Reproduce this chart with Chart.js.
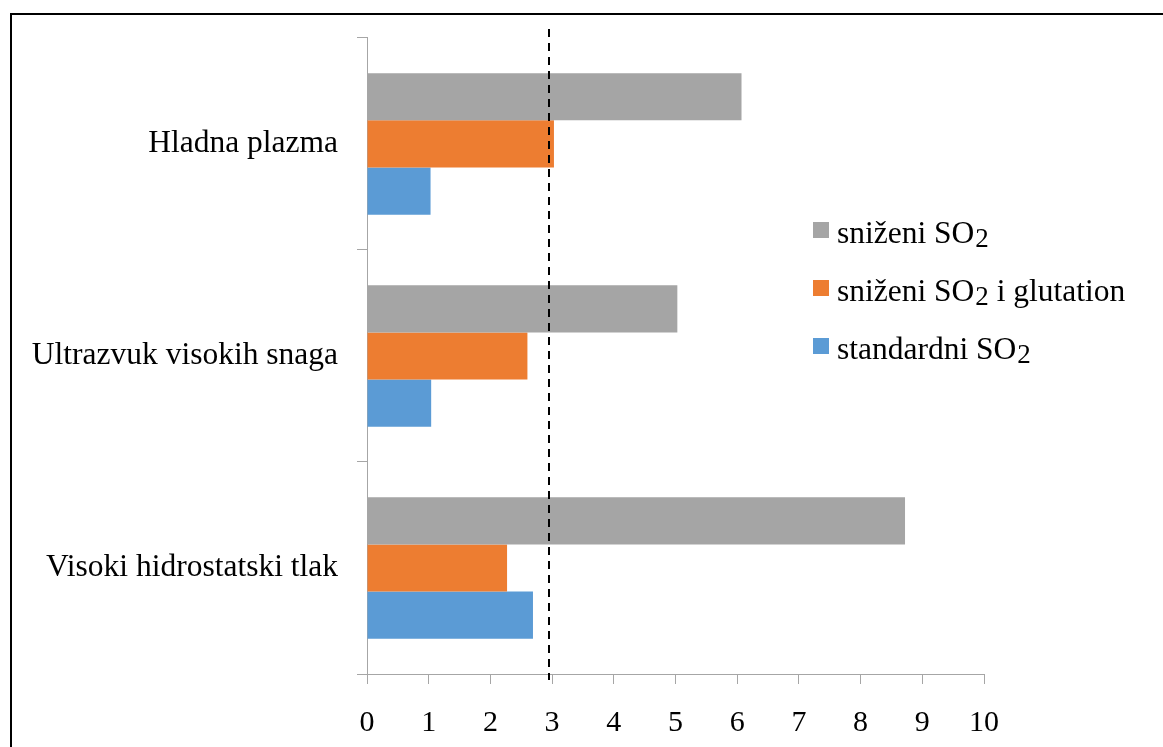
<!DOCTYPE html>
<html>
<head>
<meta charset="utf-8">
<script src="https://cdn.jsdelivr.net/npm/chart.js@4/dist/chart.umd.min.js"></script>
<style>
  html, body { margin: 0; padding: 0; background: #ffffff; overflow: hidden; }
  #wrap { position: relative; width: 1163px; height: 747px; }
  #frame { position: absolute; left: 10px; top: 13px; width: 1300px; height: 900px;
           border-left: 2px solid #000; border-top: 2px solid #000; box-sizing: border-box; }
  canvas { position: absolute; left: 0; top: 0; }
</style>
</head>
<body>
<div id="wrap">
  <div id="frame"></div>
  <canvas id="c" width="1163" height="747"></canvas>
</div>
<script>
// ---- data ----
const categories = ['Hladna plazma', 'Ultrazvuk visokih snaga', 'Visoki hidrostatski tlak'];
const seriesNames = ['sniženi SO\u2082', 'sniženi SO\u2082 i glutation', 'standardni SO\u2082'];
const snizeniSO2 = [6.07, 5.03, 8.72];
const snizeniSO2Glutation = [3.03, 2.60, 2.27];
const standardniSO2 = [1.03, 1.04, 2.69];
const xTicks = [0, 1, 2, 3, 4, 5, 6, 7, 8, 9, 10];
const referenceLine = 2.95;

const colors = ['#A5A5A5', '#ED7D31', '#5B9BD5'];
const FONT = "'Liberation Serif', 'Times New Roman', 'DejaVu Serif', serif";
const AXIS_GRAY = '#A6A6A6';

const refLinePlugin = {
  id: 'refLine',
  afterDatasetsDraw(chart) {
    const x = Math.round(chart.scales.x.getPixelForValue(referenceLine));
    const ctx = chart.ctx;
    ctx.save();
    ctx.strokeStyle = '#000';
    ctx.lineWidth = 2;
    ctx.setLineDash([8, 6]);
    ctx.beginPath();
    ctx.moveTo(x, 29);
    ctx.lineTo(x, 680);
    ctx.stroke();
    ctx.restore();
  }
};

// draws text; the subscript two (U+2082) is drawn as a lowered, slightly smaller "2"
function drawRichText(ctx, text, x, y) {
  const main = '31.5px ' + FONT;
  const sub = '27px ' + FONT;
  const parts = text.split('\u2082');
  parts.forEach((p, i) => {
    ctx.font = main;
    ctx.fillText(p, x, y);
    x += ctx.measureText(p).width;
    if (i < parts.length - 1) {
      ctx.font = sub;
      ctx.fillText('2', x + 1, y + 4);
      x += ctx.measureText('2').width + 1;
    }
  });
}

const legendPlugin = {
  id: 'customLegend',
  afterDraw(chart) {
    const ctx = chart.ctx;
    ctx.save();
    ctx.textBaseline = 'alphabetic';
    ctx.textAlign = 'left';
    chart.data.datasets.forEach((ds, i) => {
      const cy = 230 + i * 58;
      ctx.fillStyle = ds.backgroundColor;
      ctx.fillRect(813, cy - 8, 16, 16);
      ctx.fillStyle = '#000';
      drawRichText(ctx, ds.label, 837, cy + 12.5);
    });
    ctx.restore();
  }
};

new Chart(document.getElementById('c'), {
  type: 'bar',
  data: {
    labels: categories,
    datasets: [
      { label: seriesNames[0], data: snizeniSO2, backgroundColor: colors[0] },
      { label: seriesNames[1], data: snizeniSO2Glutation, backgroundColor: colors[1] },
      { label: seriesNames[2], data: standardniSO2, backgroundColor: colors[2] }
    ]
  },
  options: {
    indexAxis: 'y',
    responsive: false,
    animation: false,
    events: [],
    datasets: { bar: { categoryPercentage: 0.667, barPercentage: 1.0, borderWidth: 0 } },
    layout: { padding: { left: 0, top: 36, right: 179, bottom: 0 } },
    plugins: { legend: { display: false }, tooltip: { enabled: false } },
    scales: {
      x: {
        type: 'linear',
        min: 0, max: 10,
        afterBuildTicks(scale) { scale.ticks = xTicks.map(v => ({ value: v })); },
        afterFit(scale) { scale.height = 73; },
        grid: { drawOnChartArea: false, drawTicks: true, tickLength: 10, color: AXIS_GRAY, lineWidth: 1 },
        border: { display: true, color: AXIS_GRAY, width: 1 },
        ticks: { color: '#000', font: { family: FONT, size: 30 }, padding: 21, maxRotation: 0, autoSkip: false }
      },
      y: {
        type: 'category',
        afterFit(scale) { scale.width = 367; },
        grid: { drawOnChartArea: false, drawTicks: true, tickLength: 10, color: AXIS_GRAY, lineWidth: 1, offset: true },
        border: { display: true, color: AXIS_GRAY, width: 1 },
        ticks: { color: '#000', font: { family: FONT, size: 31.5 }, padding: 19 }
      }
    }
  },
  plugins: [refLinePlugin, legendPlugin]
});
</script>
</body>
</html>
